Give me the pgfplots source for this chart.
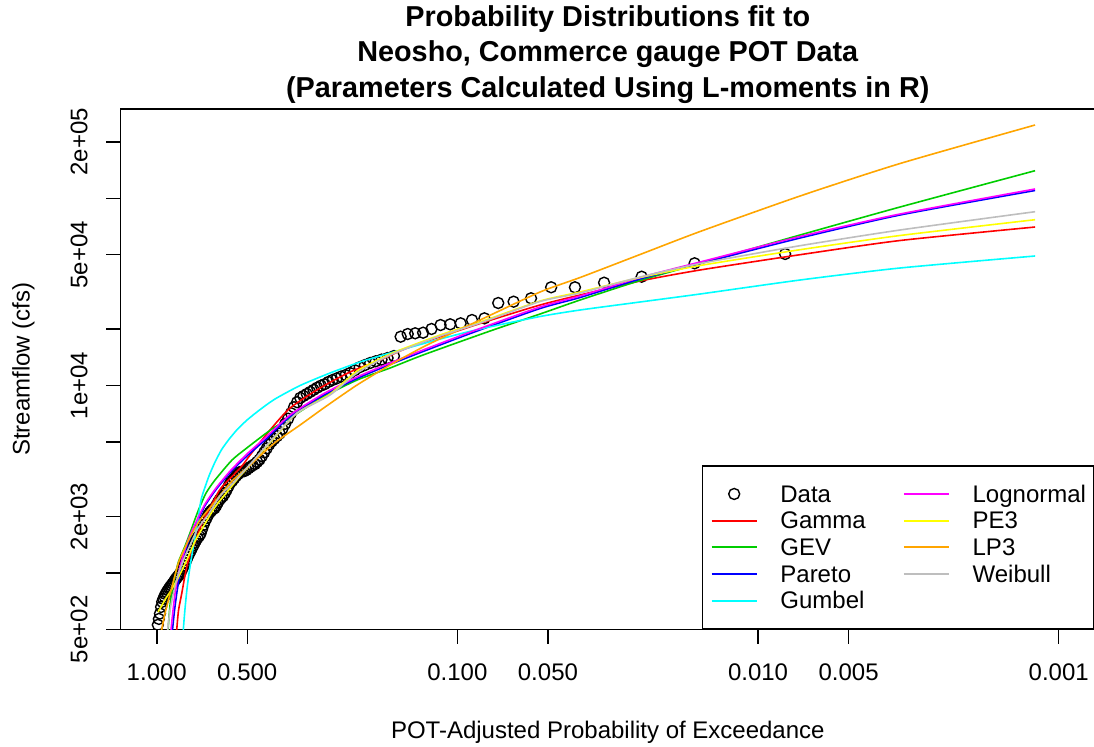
\documentclass[border=0pt]{standalone}
\usepackage{fontspec}
\setmainfont{Liberation Sans}
\usepackage{pgfplots}
\pgfplotsset{compat=1.18}
\definecolor{colGamma}{RGB}{255,0,0}
\definecolor{colGEV}{RGB}{0,205,0}
\definecolor{colPareto}{RGB}{0,0,255}
\definecolor{colGumbel}{RGB}{0,255,255}
\definecolor{colLogn}{RGB}{255,0,255}
\definecolor{colPE}{RGB}{255,255,0}
\definecolor{colLP}{RGB}{255,165,0}
\definecolor{colWei}{RGB}{190,190,190}
\pgfplotsset{mylegimg/.style={legend image code/.code={\draw[mark repeat=2,mark phase=2,##1] plot coordinates {(0pt,0pt) (11.25pt,0pt) (22.5pt,0pt)};}}}
\begin{document}
\begin{tikzpicture}
\path[use as bounding box] (0,0) rectangle (547pt,373pt);
\begin{axis}[
  at={(60.35pt,58.35pt)}, anchor=south west,
  scale only axis, width=487.05pt, height=260.17pt,
  xmode=log, ymode=log, x dir=reverse,
  xmin=0.000758578, xmax=1.31826, ymin=500, ymax=300000,
  xtick={1,0.5,0.1,0.05,0.01,0.005,0.001},
  xticklabels={1.000,0.500,0.100,0.050,0.010,0.005,0.001},
  ytick={500,1000,2000,5000,10000,20000,50000,100000,200000},
  yticklabels={5e+02,,2e+03,,1e+04,,5e+04,,2e+05},
  xminorticks=false, yminorticks=false,
  tick align=outside, tick pos=left,
  major tick length=7.2pt,
  every tick/.style={black, line width=0.75pt},
  axis line style={line width=0.75pt},
  ticklabel style={font=\fontsize{12}{14.4}\selectfont},
  xticklabel style={anchor=base, yshift=-18.5pt},
  yticklabel style={xshift=-9.5pt, rotate=90, anchor=base},
  clip marker paths=true,
  mylegimg,
  legend columns=2,
  legend cell align=left,
  legend style={at={(1,0)}, anchor=south east, draw=black, line width=0.75pt, fill=white,
    font=\fontsize{12}{14.4}\selectfont, inner xsep=4pt, inner ysep=7.3pt, row sep=0pt,
    nodes={inner sep=0pt, text height=10.7pt, text depth=2.63pt},
    /tikz/column 1/.style={column sep=11.35pt},
    /tikz/column 2/.style={column sep=18.6pt},
    /tikz/column 3/.style={column sep=11.35pt}},
  curve/.style={line width=0.8pt, smooth, tension=0.4, forget plot},
]
% Data
\addplot[only marks, mark=o, mark size=2.75pt, black, line width=0.7pt, forget plot] coordinates {
(0.00813,50440) (0.01626,44990) (0.02439,38150) (0.03252,35440) (0.04065,33500)
(0.04878,33500) (0.05691,29260) (0.06504,28060) (0.07317,27610) (0.08130,22870)
(0.08943,22400) (0.09756,21510) (0.10569,21250) (0.11382,21060) (0.12195,20060)
(0.13008,19170) (0.13821,19030) (0.14634,18860) (0.15447,18250) (0.16260,14390)
(0.17073,14040) (0.17886,13770) (0.18699,13490) (0.19512,13210) (0.20325,12870)
(0.21138,12540) (0.21951,12090) (0.22764,11680) (0.23577,11380) (0.24390,11170)
(0.25203,10930) (0.26016,10715) (0.26829,10470) (0.27642,10180) (0.28455,9990)
(0.29268,9750) (0.30081,9490) (0.30894,9247) (0.31707,9020) (0.32520,8802)
(0.33333,8600) (0.34146,8156) (0.34959,7670) (0.35772,7124) (0.36585,6659)
(0.37398,6253) (0.38211,5875) (0.39024,5550) (0.39837,5370) (0.40650,5201)
(0.41463,5037) (0.42276,4850) (0.43089,4622) (0.43902,4406) (0.44715,4200)
(0.45528,4027) (0.46341,3915) (0.47154,3811) (0.47967,3751) (0.48780,3687)
(0.49593,3615) (0.50407,3540) (0.51220,3493) (0.52033,3475) (0.52846,3458)
(0.53659,3370) (0.54472,3292) (0.55285,3197) (0.56098,3102) (0.56911,3032)
(0.57724,2904) (0.58537,2779) (0.59350,2665) (0.60163,2575) (0.60976,2521)
(0.61789,2460) (0.62602,2380) (0.63415,2285) (0.64228,2216) (0.65041,2189)
(0.65854,2146) (0.66667,2100) (0.67480,2041) (0.68293,1962) (0.69106,1889)
(0.69919,1803) (0.70732,1708) (0.71545,1618) (0.72358,1573) (0.73171,1538)
(0.73984,1494) (0.74797,1448) (0.75610,1399) (0.76423,1352) (0.77236,1306)
(0.78049,1264) (0.78862,1221) (0.79675,1173) (0.80488,1130) (0.81301,1094)
(0.82114,1057) (0.82927,1019) (0.83740,984) (0.84553,970) (0.85366,952)
(0.86179,934) (0.86992,915) (0.87805,894) (0.88618,876) (0.89431,859)
(0.90244,842) (0.91057,825) (0.91870,807) (0.92683,790) (0.93496,771)
(0.94309,749) (0.95122,726) (0.95935,701) (0.96748,658) (0.97561,607)
(0.98374,568) (0.99187,528)
};
% Gamma
\addplot[colGamma, curve] coordinates {
(0.86391,412.2) (0.85795,500) (0.84624,633.9) (0.82575,778.3) (0.80508,974.7) (0.78504,1172.1)
(0.76308,1325) (0.71776,1737) (0.69080,1989) (0.64974,2391) (0.61113,2840) (0.52434,3677)
(0.48925,4262) (0.41991,5795) (0.36027,7594) (0.28632,9711) (0.22754,11822) (0.18083,13700)
(0.14373,16077) (0.08408,21460) (0.05310,26941) (0.03909,30465) (0.02469,36186) (0.01559,41429)
(0.007250,49999) (0.003371,59535) (0.0011986,70276)
};
% GEV
\addplot[colGEV, curve] coordinates {
(0.92413,412.2) (0.91708,500) (0.90315,674.1) (0.88601,830.7) (0.86920,962.8) (0.84753,1143.7)
(0.80508,1392) (0.76898,1695) (0.72883,2141) (0.68552,2671) (0.63997,3134) (0.56175,4007)
(0.49696,4702) (0.43630,5517) (0.40423,6012) (0.36027,6716) (0.27981,8694) (0.21567,10714)
(0.16748,12418) (0.13009,14571) (0.077876,19570) (0.05310,24119) (0.03909,28648) (0.02469,36409)
(0.01559,44872) (0.007250,63700) (0.003371,89873) (0.0011986,140420)
};
% Pareto
\addplot[colPareto, curve] coordinates {
(0.89284,412.2) (0.88601,500) (0.87255,633.9) (0.85795,778.3) (0.83978,974.7) (0.82196,1172.1)
(0.78085,1498.8) (0.73444,1870) (0.69080,2290) (0.63498,2788) (0.56607,3479) (0.49696,4262)
(0.43630,5124) (0.36027,6841) (0.27981,8856) (0.21567,10914) (0.16748,12963) (0.13009,15210)
(0.088704,19213) (0.05310,25806) (0.03909,29542) (0.02469,37087) (0.01559,44872) (0.007250,61397)
(0.003371,81456) (0.0011986,110080)
};
% Gumbel
\addplot[colGumbel, curve] coordinates {
(0.82008,387.7) (0.81564,500) (0.80508,649.7) (0.79290,830.7) (0.78085,999) (0.76898,1172.2)
(0.75440,1409) (0.73669,1758.6) (0.71229,2450.7) (0.69080,2875.5) (0.66842,3332.6) (0.63997,3910)
(0.60972,4531.6) (0.57922,5093) (0.54189,5795) (0.50078,6553) (0.45302,7456) (0.40423,8483)
(0.33359,10014) (0.26525,11678) (0.21078,13369) (0.16748,14933) (0.11420,17737) (0.08408,20057)
(0.05310,23389) (0.03909,25335) (0.02469,27954) (0.01559,30842) (0.007250,36634) (0.003371,42457)
(0.0011986,49206)
};
% Lognormal
\addplot[colLogn, curve] coordinates {
(0.90315,412.2) (0.89626,500) (0.88262,633.9) (0.86920,778.3) (0.84944,974.7) (0.82575,1172.1)
(0.78678,1498.8) (0.74009,1870) (0.69080,2333) (0.63498,2840) (0.56607,3544) (0.49696,4368)
(0.43630,5252) (0.36027,6968) (0.27981,9021) (0.21567,11117) (0.16748,13205) (0.13009,15494)
(0.088704,19570) (0.05310,26287) (0.03909,30093) (0.02469,37777) (0.01559,45708) (0.007250,62536)
(0.003371,82464) (0.0011986,112132)
};
% PE3
\addplot[colPE, curve] coordinates {
(0.99009,618.5) (0.96023,674.1) (0.93124,734.7) (0.90315,790.9) (0.84944,939.4) (0.79466,1172.1)
(0.74576,1480) (0.70146,1758.6) (0.63997,2249) (0.58367,2704) (0.52840,3292) (0.48197,3862)
(0.40423,5317) (0.34146,7142) (0.26525,9021) (0.21567,11968) (0.16748,14750) (0.11420,18631)
(0.08408,21859) (0.05310,28298) (0.03909,31610) (0.02469,37777) (0.01559,43783) (0.007250,53169)
(0.003371,63310) (0.0011986,76883)
};
% LP3
\addplot[colLP, curve] coordinates {
(0.98480,412.2) (0.96244,500) (0.93839,610.9) (0.90315,771.7) (0.86920,974.7) (0.84300,1157.8)
(0.77484,1555) (0.71776,1917) (0.64974,2333) (0.56175,3096) (0.48925,3769) (0.44303,4368)
(0.39799,5062) (0.33359,6162) (0.27556,7688) (0.21567,10076) (0.16748,12885) (0.13009,16077)
(0.10579,18862) (0.08408,22404) (0.05310,31610) (0.03909,37777) (0.02469,50122) (0.01559,66499)
(0.007250,102886) (0.003371,153419) (0.0011986,246281)
};
% Weibull
\addplot[colWei, curve] coordinates {
(0.92413,412.2) (0.91919,500) (0.90315,633.9) (0.88062,778.3) (0.84944,974.7) (0.81564,1172.1)
(0.77484,1409) (0.72883,1737) (0.67510,2038) (0.61597,2575) (0.56175,2983) (0.48197,3910)
(0.40423,5383) (0.34146,7142) (0.26525,8910) (0.21567,11678) (0.16748,14570) (0.11420,18404)
(0.08408,21593) (0.05310,28125) (0.03909,31225) (0.02469,38010) (0.01559,44872) (0.007250,55849)
(0.003371,67737) (0.0011986,84827)
};
\addlegendimage{only marks, mark=o, mark size=2.75pt, black, line width=0.7pt, mylegimg}
\addlegendentry{Data}
\addlegendimage{legend image code/.code={\draw[draw=colLogn, line width=1pt] (0pt,0pt) -- (22.5pt,0pt);}}
\addlegendentry{Lognormal}
\addlegendimage{legend image code/.code={\draw[draw=colGamma, line width=1pt] (0pt,0pt) -- (22.5pt,0pt);}}
\addlegendentry{Gamma}
\addlegendimage{legend image code/.code={\draw[draw=colPE, line width=1pt] (0pt,0pt) -- (22.5pt,0pt);}}
\addlegendentry{PE3}
\addlegendimage{legend image code/.code={\draw[draw=colGEV, line width=1pt] (0pt,0pt) -- (22.5pt,0pt);}}
\addlegendentry{GEV}
\addlegendimage{legend image code/.code={\draw[draw=colLP, line width=1pt] (0pt,0pt) -- (22.5pt,0pt);}}
\addlegendentry{LP3}
\addlegendimage{legend image code/.code={\draw[draw=colPareto, line width=1pt] (0pt,0pt) -- (22.5pt,0pt);}}
\addlegendentry{Pareto}
\addlegendimage{legend image code/.code={\draw[draw=colWei, line width=1pt] (0pt,0pt) -- (22.5pt,0pt);}}
\addlegendentry{Weibull}
\addlegendimage{legend image code/.code={\draw[draw=colGumbel, line width=1pt] (0pt,0pt) -- (22.5pt,0pt);}}
\addlegendentry{Gumbel}
\end{axis}
\node[anchor=base, font=\fontsize{14.4}{17}\selectfont\bfseries] at (303.9pt,359.85pt) {Probability Distributions fit to};
\node[anchor=base, font=\fontsize{14.4}{17}\selectfont\bfseries] at (303.9pt,342.15pt) {Neosho, Commerce gauge POT Data};
\node[anchor=base, font=\fontsize{14.4}{17}\selectfont\bfseries] at (303.9pt,324.45pt) {(Parameters Calculated Using L-moments in R)};
\node[anchor=base, font=\fontsize{12}{14.4}\selectfont] at (303.9pt,4pt) {POT-Adjusted Probability of Exceedance};
\node[anchor=base, rotate=90, font=\fontsize{12}{14.4}\selectfont] at (14.85pt,188.4pt) {Streamflow (cfs)};
\end{tikzpicture}
\end{document}
